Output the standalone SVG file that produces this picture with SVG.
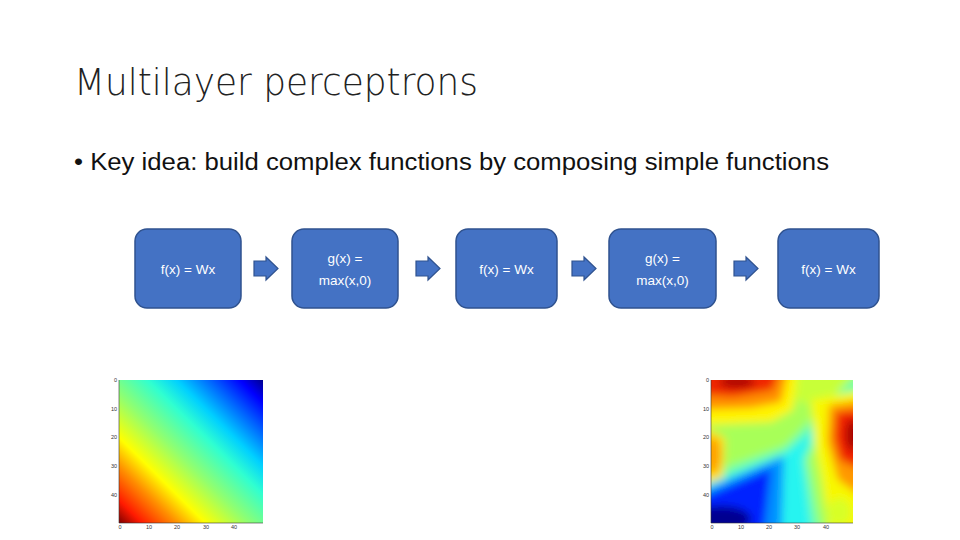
<svg xmlns="http://www.w3.org/2000/svg" width="960" height="540" viewBox="0 0 960 540">
<style>
.title{font-family:"DejaVu Sans","Liberation Sans",sans-serif;font-size:38px;fill:#222;font-weight:200}
.bullet{font-family:"Liberation Sans","DejaVu Sans",sans-serif;font-size:23px;fill:#111}
.box rect{fill:#4472C4;stroke:#2F528F;stroke-width:1.5}
.box text{font-family:"Liberation Sans","DejaVu Sans",sans-serif;font-size:13.5px;fill:#fff;text-anchor:middle}
.arr{fill:#4472C4;stroke:#2F528F;stroke-width:1.2}
.tk{font-family:"Liberation Sans",sans-serif;font-size:5.5px;fill:#333}
</style>
<defs>
<linearGradient id="g1" x1="0" y1="1" x2="1" y2="0">
<stop offset="0" stop-color="#7F0000"/>
<stop offset="0.08" stop-color="#FF1A00"/>
<stop offset="0.2" stop-color="#FF9000"/>
<stop offset="0.3" stop-color="#FFFF00"/>
<stop offset="0.45" stop-color="#90FF70"/>
<stop offset="0.6" stop-color="#30FFD0"/>
<stop offset="0.7" stop-color="#00D0FF"/>
<stop offset="0.82" stop-color="#0060FF"/>
<stop offset="0.92" stop-color="#0000FF"/>
<stop offset="1" stop-color="#000090"/>
</linearGradient>
<clipPath id="c2"><rect x="0" y="0" width="142" height="143"/></clipPath>
<filter id="bl" x="-20%" y="-20%" width="140%" height="140%"><feGaussianBlur stdDeviation="4"/></filter>
</defs>
<rect width="960" height="540" fill="#fff"/>
<text class="title" x="74" y="95" textLength="404" lengthAdjust="spacingAndGlyphs">Multilayer perceptrons</text>
<text class="bullet" x="74" y="170" textLength="755" lengthAdjust="spacingAndGlyphs">• Key idea: build complex functions by composing simple functions</text>

<g id="node1" class="box"><rect x="135" y="229" width="106" height="79" rx="12"/><text x="188" y="273.5">f(x) = Wx</text></g>
<g id="node2" class="box"><rect x="292" y="229" width="106" height="79" rx="12"/><text x="345" y="263">g(x) =</text><text x="345" y="285">max(x,0)</text></g>
<g id="node3" class="box"><rect x="456" y="229" width="101" height="79" rx="12"/><text x="506.5" y="273.5">f(x) = Wx</text></g>
<g id="node4" class="box"><rect x="609" y="229" width="107" height="79" rx="12"/><text x="662.5" y="263">g(x) =</text><text x="662.5" y="285">max(x,0)</text></g>
<g id="node5" class="box"><rect x="778" y="229" width="101" height="79" rx="12"/><text x="828.5" y="273.5">f(x) = Wx</text></g>

<g id="connectors">
<path class="arr" d="M254,261 H266 V257 L278,268.5 L266,280 V276 H254 Z"/>
<path class="arr" d="M416,261 H428 V257 L440,268.5 L428,280 V276 H416 Z"/>
<path class="arr" d="M572,261 H584 V257 L596,268.5 L584,280 V276 H572 Z"/>
<path class="arr" d="M734,261 H746 V257 L758,268.5 L746,280 V276 H734 Z"/>
</g>

<g id="plot1">
<rect x="119" y="380" width="144" height="143" fill="url(#g1)"/>
<line x1="119" y1="380" x2="119" y2="523" stroke="#333" stroke-width="0.6"/>
<line x1="119" y1="523" x2="263" y2="523" stroke="#333" stroke-width="0.6"/>
<g class="tk" text-anchor="end">
<text x="117" y="382">0</text><text x="117" y="411">10</text><text x="117" y="439">20</text><text x="117" y="468">30</text><text x="117" y="497">40</text>
</g>
<g class="tk" text-anchor="middle">
<text x="120" y="529">0</text><text x="149" y="529">10</text><text x="177" y="529">20</text><text x="206" y="529">30</text><text x="234" y="529">40</text>
</g>
</g>

<g id="plot2">
<g transform="translate(711,380)">
<g clip-path="url(#c2)">
<g filter="url(#bl)">
<rect x="-20" y="-20" width="182" height="183" fill="#A8FF58"/>
<polygon points="60,-20 162,-20 162,10 141,15 120,20 100,25 85,20" fill="#C8FF38"/>
<polygon points="-20,100 74,66 141,-2 162,-10 162,14 141,16 96,78 112,163 -20,163" fill="#70FFA8"/>
<polygon points="-20,110 74,73 104,48 92,80 102,163 -20,163" fill="#28F4F0"/>
<polygon points="-20,115 73,76 70,163 -20,163" fill="#0090FF"/>
<polygon points="-20,122 60,88 52,163 -20,163" fill="#0020FF"/>
<ellipse cx="10" cy="139" rx="30" ry="13" fill="#000090"/>
<polygon points="-20,-20 88,-20 82,30 60,42 -20,46" fill="#FFF400"/>
<polygon points="-20,40 14,58 12,98 -20,108" fill="#FFE000"/>
<polygon points="-20,-20 80,-20 70,22 40,28 -20,30" fill="#FF9000"/>
<ellipse cx="2" cy="75" rx="8" ry="18" fill="#FFA000"/>
<polygon points="-20,-20 72,-20 62,10 22,17 -20,14" fill="#F02800"/>
<ellipse cx="26" cy="2" rx="18" ry="6" fill="#A80000"/>
<polygon points="100,20 162,8 162,163 120,163 110,95 103,60" fill="#F8F800"/>
<polygon points="118,25 162,18 162,125 127,100 116,62" fill="#FF9800"/>
<polygon points="125,32 162,28 162,95 129,80 123,58" fill="#F02000"/>
<ellipse cx="142" cy="55" rx="7" ry="16" fill="#A00000"/>
<ellipse cx="128" cy="132" rx="12" ry="14" fill="#D8FF28"/>
</g>
</g>
</g>
<line x1="711" y1="380" x2="711" y2="523" stroke="#333" stroke-width="0.6"/>
<line x1="711" y1="523" x2="853" y2="523" stroke="#333" stroke-width="0.6"/>
<g class="tk" text-anchor="end">
<text x="709" y="382">0</text><text x="709" y="411">10</text><text x="709" y="439">20</text><text x="709" y="468">30</text><text x="709" y="497">40</text>
</g>
<g class="tk" text-anchor="middle">
<text x="712" y="529">0</text><text x="741" y="529">10</text><text x="769" y="529">20</text><text x="797" y="529">30</text><text x="826" y="529">40</text>
</g>
</g>
</svg>
